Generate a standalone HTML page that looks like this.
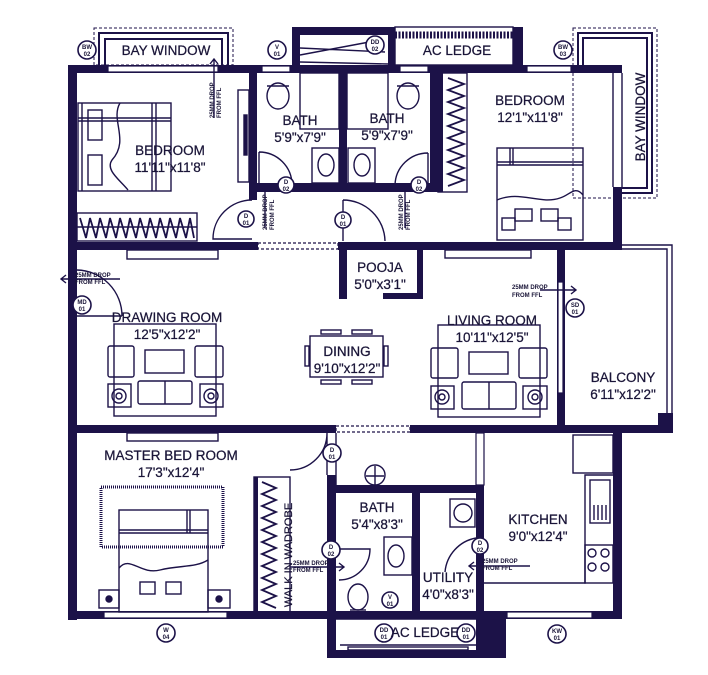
<!DOCTYPE html>
<html><head><meta charset="utf-8"><style>
html,body{margin:0;padding:0;background:#fff;}
svg{display:block;}
text{font-family:"Liberation Sans",sans-serif;fill:#1a1538;}
</style></head><body>
<svg width="708" height="675" viewBox="0 0 708 675" xmlns="http://www.w3.org/2000/svg">
<g fill="#1c1248" stroke="none">
<rect x="68" y="65" width="9" height="555"/>
<rect x="68" y="65" width="189" height="8"/>
<rect x="249" y="65" width="8" height="135"/>
<rect x="257" y="65" width="180" height="8"/>
<rect x="430" y="65" width="192" height="8"/>
<rect x="339" y="73" width="8" height="119"/>
<rect x="257" y="183" width="181" height="9"/>
<rect x="430" y="65" width="8" height="127"/>
<rect x="438" y="73" width="5" height="119"/>
<rect x="613" y="187" width="9" height="63"/>
<rect x="68" y="242" width="190" height="8"/>
<rect x="338" y="242" width="284" height="8"/>
<rect x="339" y="250" width="8" height="49"/>
<rect x="417" y="250" width="6" height="49"/>
<rect x="383" y="293" width="40" height="6"/>
<rect x="557" y="250" width="8" height="183"/>
<rect x="68" y="425" width="268" height="8"/>
<rect x="410" y="425" width="262" height="8"/>
<rect x="658" y="413" width="15" height="20"/>
<rect x="327" y="475" width="9" height="183"/>
<rect x="336" y="485" width="148" height="8"/>
<rect x="412" y="485" width="8" height="127"/>
<rect x="476" y="485" width="8" height="173"/>
<rect x="68" y="611" width="554" height="8"/>
<rect x="613" y="425" width="9" height="194"/>
<rect x="327" y="650" width="179" height="8"/>
<rect x="484" y="619" width="22" height="39"/>
<rect x="254" y="477" width="4" height="135"/>
<rect x="292" y="27" width="103" height="8"/>
<rect x="292" y="27" width="8" height="46"/>
<rect x="388" y="27" width="7" height="46"/>
<rect x="513" y="27" width="10" height="46"/>
</g>
<g fill="#fff" stroke="#1c1248" stroke-width="1.2">
<rect x="108" y="66" width="110" height="6"/>
<rect x="262" y="66" width="28" height="6"/>
<rect x="400" y="66" width="28" height="6"/>
<rect x="527" y="66" width="44" height="6"/>
<rect x="258" y="243" width="80" height="6" stroke-dasharray="3,2"/>
<rect x="336" y="426" width="74" height="6" stroke-dasharray="3,2"/>
<rect x="104" y="612" width="123" height="6"/>
<rect x="507" y="612" width="85" height="6"/>
<rect x="476" y="433" width="8" height="52"/>
<rect x="558" y="282" width="5" height="111"/>
</g>
<g fill="none" stroke="#1c1248" stroke-width="1.4">
<rect x="94" y="28" width="139" height="37" stroke-dasharray="3,2" stroke-width="1"/>
<path d="M99 65 V33 H228 V65 M105 65 V39 H222 V65" stroke-width="2"/>
<rect x="573" y="28" width="84" height="170" stroke-dasharray="3,2" stroke-width="1"/>
<path d="M578 65 V33 H652 V193 H620 M583 65 V38 H647 V188 H620" stroke-width="2"/>
<rect x="395" y="27" width="118" height="38"/>
<path d="M395 35 H513" stroke-width="7" stroke-dasharray="2,1.5"/>
<path d="M613 73 V187 M622 73 V187"/>
<path d="M565 245 H672 V425 M565 249 H667 V413"/>
<path d="M336 433 V485"/>
<path d="M336 619 H476 M340 645 H476"/>
<rect x="348" y="647" width="120" height="3"/>
<path d="M300 48 L385 52 M300 55 L380 40 M300 62 L388 64"/>
<rect x="78" y="103" width="93" height="88"/>
<path d="M82 103 V191 M152 103 V191 M156 103 V191 M78 118 H171 M78 121 H171"/>
<path d="M120 103 C110 120 130 140 112 160 C105 170 120 180 128 190"/>
<rect x="88" y="110" width="14" height="30"/><rect x="88" y="155" width="14" height="30"/>
<rect x="77" y="213" width="120" height="28"/>
<path d="M80 218 L86 238 L90 218 L96 238 L100 218 L106 238 L110 218 L116 238 L120 218 L126 238 L130 218 L136 238 L140 218 L146 238 L150 218 L156 238 L160 218 L166 238 L170 218 L176 238 L180 218 L186 238 L190 218 L194 238" stroke-width="1.8"/>
<path d="M77 227 H197"/>
<rect x="238" y="90" width="11" height="92"/>
<rect x="244" y="115" width="3" height="40" fill="#1c1248"/>
<path d="M252 200 A39 39 0 0 0 213 239 H252"/>
<rect x="127" y="250" width="91" height="9"/>
<ellipse cx="278" cy="96" rx="11" ry="13"/><path d="M267 86 H289"/>
<rect x="300" y="73" width="39" height="56"/>
<rect x="312" y="148" width="27" height="35"/><ellipse cx="326" cy="165" rx="8" ry="11"/>
<path d="M259 152 A33 33 0 0 1 292 185 M259 152 V185"/>
<ellipse cx="408" cy="96" rx="11" ry="13"/><path d="M397 86 H419"/>
<rect x="347" y="73" width="41" height="56"/>
<rect x="348" y="148" width="27" height="35"/><ellipse cx="362" cy="165" rx="8" ry="11"/>
<path d="M428 153 A33 33 0 0 0 395 185 M428 153 V185"/>
<path d="M343 200 A42 42 0 0 1 385 241 M343 200 V241"/>
<rect x="438" y="73" width="29" height="119"/>
<path d="M448 78 L464 84 L448 90 L464 96 L448 102 L464 108 L448 114 L464 120 L448 126 L464 132 L448 138 L464 144 L448 150 L464 156 L448 162 L464 168 L448 174 L464 180 L448 186" stroke-width="1.8"/>
<rect x="497" y="148" width="86" height="92"/>
<path d="M510 148 V165 M513 148 V165 M497 162 H583 M497 165 H583"/>
<path d="M497 200 C520 190 540 205 560 198 C570 195 575 185 583 195"/>
<rect x="515" y="209" width="17" height="12"/><rect x="541" y="209" width="17" height="12"/>
<rect x="502" y="218" width="13" height="12"/><rect x="558" y="218" width="13" height="12"/>
<rect x="445" y="250" width="86" height="8"/>
<path d="M77 270 A46 46 0 0 1 122 316 M77 316 H122"/>
<rect x="114" y="324" width="102" height="92"/>
<rect x="108" y="346" width="26" height="31" rx="2"/><rect x="195" y="346" width="28" height="31" rx="2"/>
<rect x="145" y="350" width="39" height="23"/>
<rect x="138" y="381" width="54" height="23" rx="2"/><path d="M165 381 V404"/>
<rect x="108" y="384" width="23" height="23"/><rect x="200" y="384" width="23" height="23"/>
<circle cx="119" cy="396" r="7"/><circle cx="119" cy="396" r="3"/><circle cx="211" cy="396" r="7"/><circle cx="211" cy="396" r="3"/>
<rect x="310" y="336" width="73" height="41"/>
<rect x="321" y="330" width="20" height="4"/><rect x="352" y="330" width="20" height="4"/>
<rect x="321" y="380" width="20" height="4"/><rect x="352" y="380" width="20" height="4"/>
<rect x="305" y="346" width="4" height="20"/><rect x="384" y="346" width="4" height="20"/>
<rect x="438" y="325" width="102" height="92"/>
<rect x="431" y="348" width="27" height="30" rx="2"/><rect x="519" y="348" width="28" height="30" rx="2"/>
<rect x="469" y="352" width="39" height="22"/>
<rect x="462" y="382" width="54" height="27" rx="2"/><path d="M489 382 V409"/>
<rect x="431" y="386" width="23" height="23"/><rect x="523" y="386" width="24" height="23"/>
<circle cx="442" cy="397" r="7"/><circle cx="442" cy="397" r="3"/><circle cx="535" cy="397" r="7"/><circle cx="535" cy="397" r="3"/>
<path d="M327 433 A37 37 0 0 1 290 470 M327 433 V475"/>
<rect x="127" y="433" width="91" height="8"/>
<rect x="101" y="487" width="122" height="60" stroke-width="3" stroke-dasharray="1,1"/>
<rect x="119" y="510" width="89" height="102"/>
<path d="M187 510 V533 M190 510 V533 M119 530 H208 M119 533 H208"/>
<path d="M119 568 C130 555 140 575 160 570 C180 565 195 568 208 560"/>
<rect x="140" y="582" width="15" height="12"/><rect x="166" y="582" width="15" height="12"/>
<rect x="99" y="590" width="20" height="18"/><rect x="208" y="590" width="22" height="18"/>
<circle cx="109" cy="599" r="3" fill="#1c1248"/><circle cx="219" cy="599" r="3" fill="#1c1248"/>
<rect x="254" y="477" width="36" height="135"/>
<path d="M262 482 L276 488 L262 494 L276 500 L262 506 L276 512 L262 518 L276 524 L262 530 L276 536 L262 542 L276 548 L262 554 L276 560 L262 566 L276 572 L262 578 L276 584 L262 590 L276 596 L262 602 L276 608" stroke-width="1.8"/>
<circle cx="375" cy="475" r="10"/><path d="M375 466 V485 M366 476 H384"/>
<path d="M336 549 H370 A31 31 0 0 1 339 580"/>
<rect x="384" y="537" width="28" height="38"/><ellipse cx="396" cy="556" rx="8" ry="11"/>
<ellipse cx="358" cy="597" rx="10" ry="13"/><path d="M350 610 H366"/>
<rect x="450" y="499" width="25" height="28"/><circle cx="463" cy="513" r="9"/>
<path d="M476 538 A38 38 0 0 0 445 572"/>
<rect x="573" y="435" width="40" height="38"/>
<path d="M484 583 H585 V475 H613"/>
<rect x="590" y="480" width="20" height="43"/>
<path d="M594 505 V520 M598 505 V520 M602 505 V520 M606 505 V520"/>
<rect x="585" y="545" width="28" height="38"/>
<circle cx="592" cy="553" r="4"/><circle cx="605" cy="553" r="4"/><circle cx="592" cy="567" r="4"/><circle cx="605" cy="567" r="4"/>
<path d="M214 118 V60 M210 64 L214 59 L218 64"/>
<path d="M265 228 V187 M262 191 L265 186 L268 191"/>
<path d="M405 228 V187 M402 191 L405 186 L408 191"/>
<path d="M120 279 H62 M66 275 L61 279 L66 283"/>
<path d="M540 290 H575 M571 286 L576 290 L571 294"/>
<path d="M290 567 H343 M339 563 L344 567 L339 571"/>
<path d="M530 566 H470 M474 562 L469 566 L474 570"/>
</g>
<g fill="#fff" stroke="#1c1248" stroke-width="1.6">
<circle cx="87" cy="50" r="9"/><circle cx="277" cy="50" r="9"/><circle cx="375" cy="45" r="9"/><circle cx="563" cy="50" r="9"/>
<circle cx="246" cy="219" r="8"/><circle cx="286" cy="185" r="8"/><circle cx="343" cy="220" r="8"/><circle cx="419" cy="185" r="8"/>
<circle cx="82" cy="305" r="9"/><circle cx="575" cy="308" r="9"/>
<circle cx="332" cy="453" r="9"/><circle cx="331" cy="550" r="9"/><circle cx="390" cy="600" r="8"/>
<circle cx="480" cy="546" r="8"/><circle cx="166" cy="633" r="9"/><circle cx="384" cy="633" r="9"/><circle cx="466" cy="633" r="9"/><circle cx="557" cy="634" r="9"/>
</g>
<g font-size="6" text-anchor="middle" font-weight="bold">
<text x="87" y="49">BW</text><text x="87" y="56">02</text>
<text x="277" y="49">V</text><text x="277" y="56">01</text>
<text x="375" y="44">DD</text><text x="375" y="51">02</text>
<text x="563" y="49">BW</text><text x="563" y="56">03</text>
<text x="246" y="218">D</text><text x="246" y="225">01</text>
<text x="286" y="184">D</text><text x="286" y="191">02</text>
<text x="343" y="219">D</text><text x="343" y="226">01</text>
<text x="419" y="184">D</text><text x="419" y="191">02</text>
<text x="82" y="304">MD</text><text x="82" y="311">01</text>
<text x="575" y="307">SD</text><text x="575" y="314">01</text>
<text x="332" y="452">D</text><text x="332" y="459">01</text>
<text x="331" y="549">D</text><text x="331" y="556">02</text>
<text x="390" y="599">V</text><text x="390" y="606">01</text>
<text x="480" y="545">D</text><text x="480" y="552">02</text>
<text x="166" y="632">W</text><text x="166" y="639">04</text>
<text x="384" y="632">DD</text><text x="384" y="639">01</text>
<text x="466" y="632">DD</text><text x="466" y="639">01</text>
<text x="557" y="633">KW</text><text x="557" y="640">01</text>
</g>
<g font-size="6" font-weight="bold">
<text transform="translate(214,118) rotate(-90)">25MM DROP</text>
<text transform="translate(221,118) rotate(-90)">FROM FFL</text>
<text transform="translate(267,230) rotate(-90)">25MM DROP</text>
<text transform="translate(274,230) rotate(-90)">FROM FFL</text>
<text transform="translate(403,230) rotate(-90)">25MM DROP</text>
<text transform="translate(410,230) rotate(-90)">FROM FFL</text>
<text x="75" y="277">25MM DROP</text><text x="75" y="284">FROM FFL</text>
<text x="512" y="289">25MM DROP</text><text x="512" y="297">FROM FFL</text>
<text x="293" y="565">25MM DROP</text><text x="293" y="572">FROM FFL</text>
<text x="482" y="563">25MM DROP</text><text x="482" y="570">FROM FFL</text>
</g>
<g font-size="13.5" text-anchor="middle" stroke="#1a1538" stroke-width="0.25">
<text x="166" y="55">BAY WINDOW</text>
<text x="457" y="55">AC LEDGE</text>
<text transform="translate(645,117) rotate(-90)">BAY WINDOW</text>
<text x="170" y="155">BEDROOM</text><text x="170" y="172">11'11"x11'8"</text>
<text x="300" y="125">BATH</text><text x="300" y="142">5'9"x7'9"</text>
<text x="387" y="123">BATH</text><text x="387" y="140">5'9"x7'9"</text>
<text x="530" y="105">BEDROOM</text><text x="530" y="122">12'1"x11'8"</text>
<text x="380" y="272">POOJA</text><text x="380" y="289">5'0"x3'1"</text>
<text x="167" y="322">DRAWING ROOM</text><text x="167" y="339">12'5"x12'2"</text>
<text x="347" y="356">DINING</text><text x="347" y="373">9'10"x12'2"</text>
<text x="492" y="325">LIVING ROOM</text><text x="492" y="342">10'11"x12'5"</text>
<text x="623" y="382">BALCONY</text><text x="623" y="399">6'11"x12'2"</text>
<text x="171" y="460">MASTER BED ROOM</text><text x="171" y="477">17'3"x12'4"</text>
<text x="377" y="512">BATH</text><text x="377" y="529">5'4"x8'3"</text>
<text x="538" y="524">KITCHEN</text><text x="538" y="541">9'0"x12'4"</text>
<text x="448" y="582">UTILITY</text><text x="448" y="599">4'0"x8'3"</text>
<text x="425" y="637">AC LEDGE</text>
<text transform="translate(292,555) rotate(-90)" font-size="11">WALK IN WADROBE</text>
</g>
</svg>
</body></html>
